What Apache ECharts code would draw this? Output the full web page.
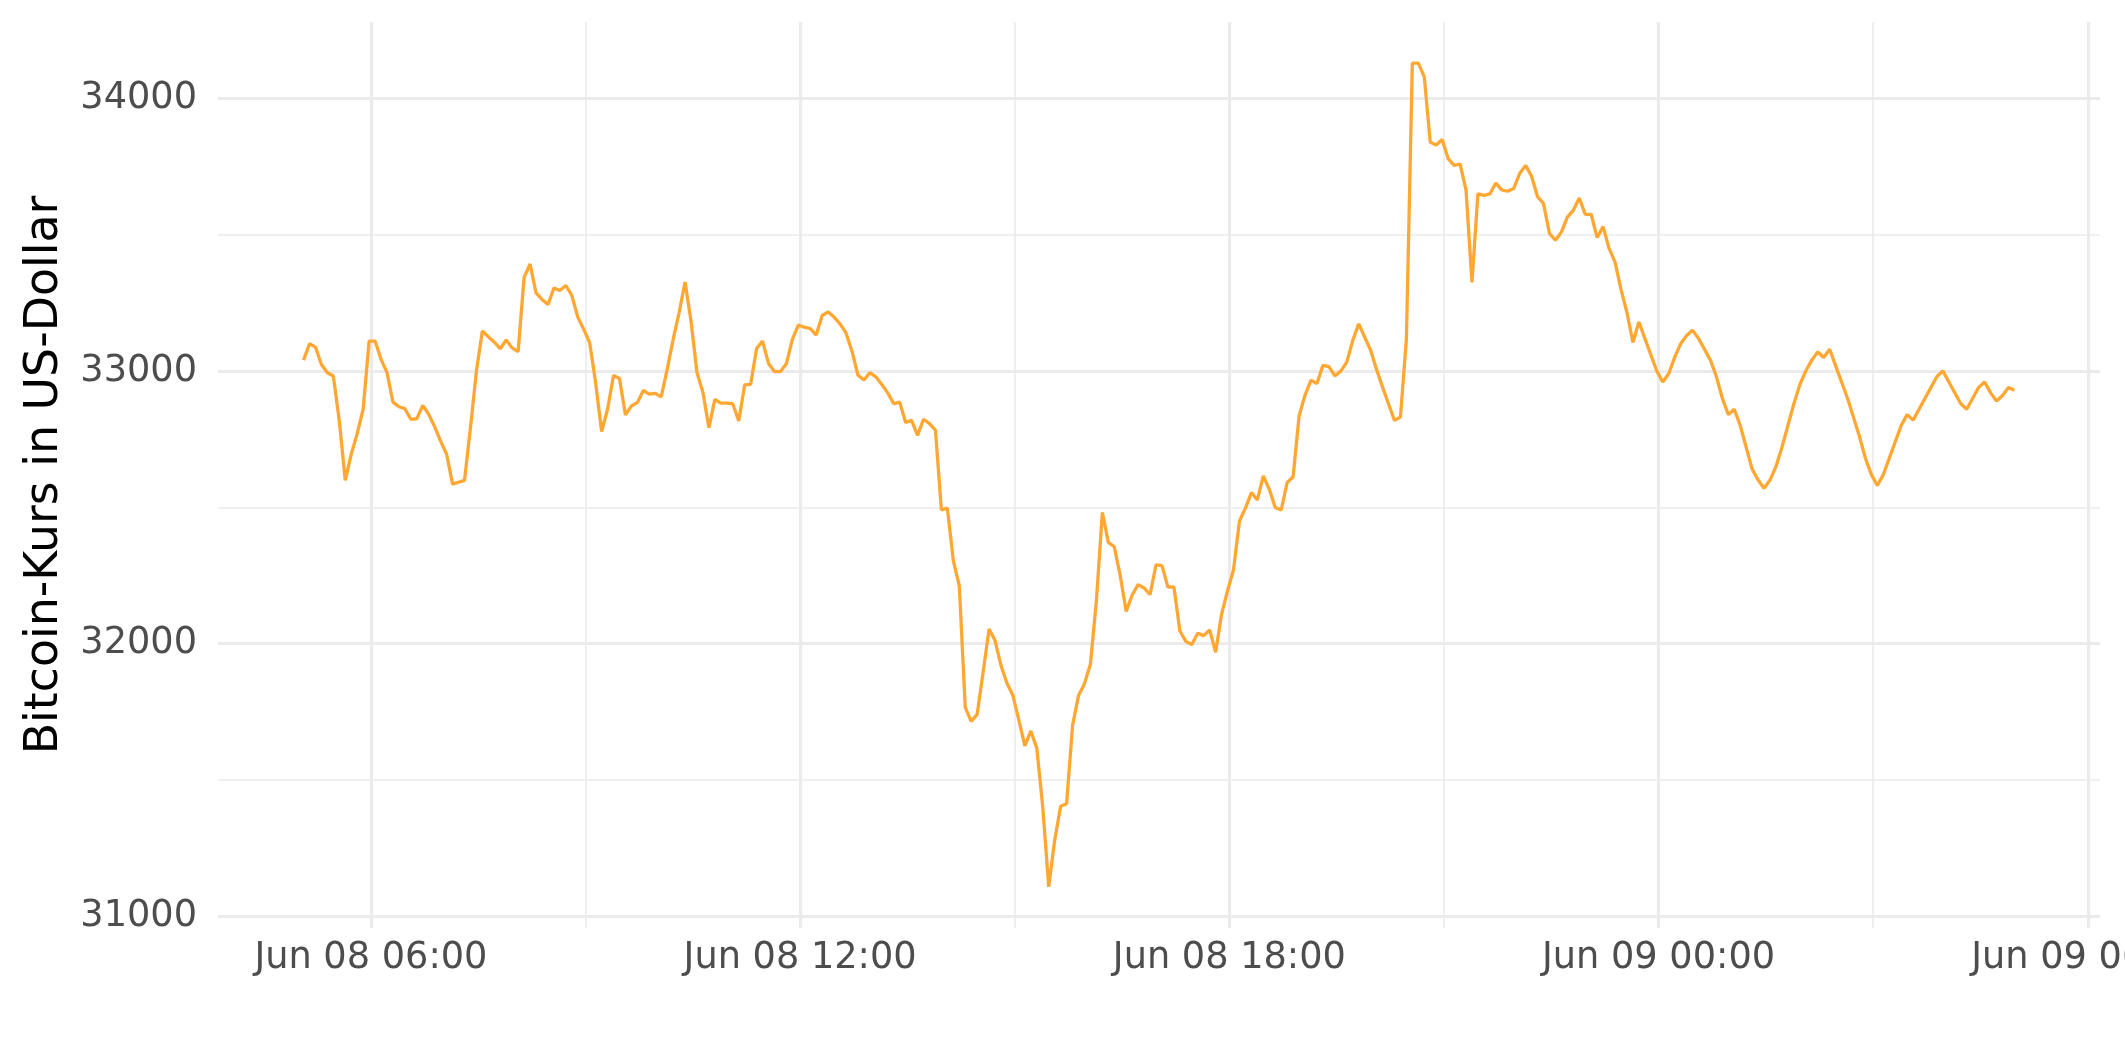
<!DOCTYPE html>
<html><head><meta charset="utf-8">
<script src="https://cdn.jsdelivr.net/npm/echarts@6/dist/echarts.min.js"></script>
<style>html,body{margin:0;padding:0;background:#ffffff}#c{width:2125px;height:1062px}</style>
</head><body><div id="c"></div>
<script>
// Time of the first observation in hours after Jun 08 00:00, and sampling step
const startHour = 5 + 3.5 / 60;
const stepMinutes = 5;

// Bitcoin price in US-Dollar, one value every 5 minutes
const prices = [
33040,33100,33088,33024,32994,32982,32817,32599,32695,32770,
32860,33110,33110,33043,32994,32886,32869,32862,32823,32825,
32874,32841,32795,32743,32695,32585,32592,32599,32792,33000,
33147,33126,33106,33082,33114,33085,33071,33344,33393,33287,
33263,33244,33305,33296,33314,33278,33198,33153,33104,32957,
32778,32860,32984,32973,32839,32872,32884,32929,32915,32918,
32905,33006,33116,33214,33327,33183,32994,32921,32792,32896,
32882,32882,32880,32817,32949,32951,33083,33110,33028,32998,
32998,33027,33116,33169,33161,33156,33132,33204,33217,33198,
33173,33140,33073,32985,32967,32994,32979,32951,32920,32880,
32886,32811,32819,32764,32823,32807,32783,32490,32497,32304,
32212,31766,31714,31740,31895,32053,32011,31919,31854,31809,
31718,31624,31679,31616,31400,31107,31278,31403,31412,31699,
31809,31852,31925,32157,32481,32371,32355,32249,32118,32178,
32216,32204,32179,32289,32286,32207,32208,32047,32008,31996,
32038,32029,32050,31968,32108,32194,32270,32450,32497,32554,
32527,32615,32566,32499,32490,32591,32612,32835,32912,32967,
32954,33021,33016,32982,33000,33033,33112,33173,33125,33076,
33006,32941,32880,32819,32831,33117,34130,34130,34080,33840,
33830,33850,33780,33755,33760,33665,33325,33650,33645,33650,
33690,33665,33660,33670,33725,33755,33715,33640,33615,33505,
33480,33510,33565,33590,33635,33575,33575,33490,33530,33450,
33400,33300,33215,33105,33180,33120,33060,33000,32960,32990,
33050,33100,33130,33150,33120,33080,33040,32980,32900,32840,
32860,32800,32720,32640,32600,32570,32600,32650,32720,32800,
32880,32950,33000,33040,33070,33050,33080,33020,32960,32900,
32830,32760,32680,32620,32580,32620,32680,32740,32800,32840,
32820,32860,32900,32940,32980,33000,32960,32920,32880,32860,
32900,32940,32960,32920,32890,32910,32940,32930
];

// Axis ticks (hours after Jun 08 00:00) and their labels
const xTickHours = [6, 12, 18, 24, 30];
const xTickLabels = ['Jun 08 06:00', 'Jun 08 12:00', 'Jun 08 18:00', 'Jun 09 00:00', 'Jun 09 06:00'];
const xMinorHours = [9, 15, 21, 27];
const yTicks = [31000, 32000, 33000, 34000];
const yMinorTicks = [31500, 32500, 33500];

const seriesData = prices.map((v, i) => [startHour + i * stepMinutes / 60, v]);

// ggplot-like 5% expansion of the data range
const tFirst = seriesData[0][0];
const tLast = seriesData[seriesData.length - 1][0];
const tPad = (tLast - tFirst) * 0.05;
const pMin = Math.min(...prices), pMax = Math.max(...prices);
const pPad = (pMax - pMin) * 0.05;

const gridCol = '#EBEBEB';
const majorW = 3.2, minorW = 1.6;
const gridLines = [];
xTickHours.forEach(h => gridLines.push({xAxis: h, lineStyle: {color: gridCol, width: majorW, type: 'solid'}}));
xMinorHours.forEach(h => gridLines.push({xAxis: h, lineStyle: {color: gridCol, width: minorW, type: 'solid'}}));
yTicks.forEach(v => gridLines.push({yAxis: v, lineStyle: {color: gridCol, width: majorW, type: 'solid'}}));
yMinorTicks.forEach(v => gridLines.push({yAxis: v, lineStyle: {color: gridCol, width: minorW, type: 'solid'}}));

const chart = echarts.init(document.getElementById('c'), null, {renderer: 'canvas'});
chart.setOption({
  animation: false,
  backgroundColor: '#ffffff',
  grid: {left: 218, right: 25, top: 22, bottom: 134, containLabel: false, outerBoundsMode: 'none'},
  xAxis: {
    type: 'value',
    min: tFirst - tPad,
    max: tLast + tPad,
    axisLine: {show: false},
    axisTick: {show: false},
    splitLine: {show: false},
    axisLabel: {
      customValues: xTickHours,
      formatter: v => xTickLabels[xTickHours.indexOf(v)] || '',
      color: '#4D4D4D',
      fontSize: 36.7,
      fontFamily: 'DejaVu Sans',
      margin: 12,
      hideOverlap: false
    }
  },
  yAxis: {
    type: 'value',
    min: pMin - pPad,
    max: pMax + pPad,
    name: 'Bitcoin-Kurs in US-Dollar',
    nameLocation: 'middle',
    nameRotate: 90,
    nameGap: 150,
    nameTextStyle: {color: '#000000', fontSize: 45.8, fontFamily: 'DejaVu Sans'},
    axisLine: {show: false},
    axisTick: {show: false},
    splitLine: {show: false},
    axisLabel: {
      customValues: yTicks,
      formatter: v => String(v),
      color: '#4D4D4D',
      fontSize: 36.7,
      fontFamily: 'DejaVu Sans',
      margin: 21
    }
  },
  series: [
    {
      type: 'line',
      data: seriesData,
      showSymbol: false,
      silent: true,
      z: 1,
      lineStyle: {opacity: 0, width: 0},
      markLine: {silent: true, symbol: ['none', 'none'], label: {show: false}, animation: false, data: gridLines}
    },
    {
      type: 'line',
      data: seriesData,
      showSymbol: false,
      z: 5,
      lineStyle: {color: '#FFA733', width: 3.3},
      itemStyle: {color: '#FFA733'}
    }
  ]
});
</script></body></html>
